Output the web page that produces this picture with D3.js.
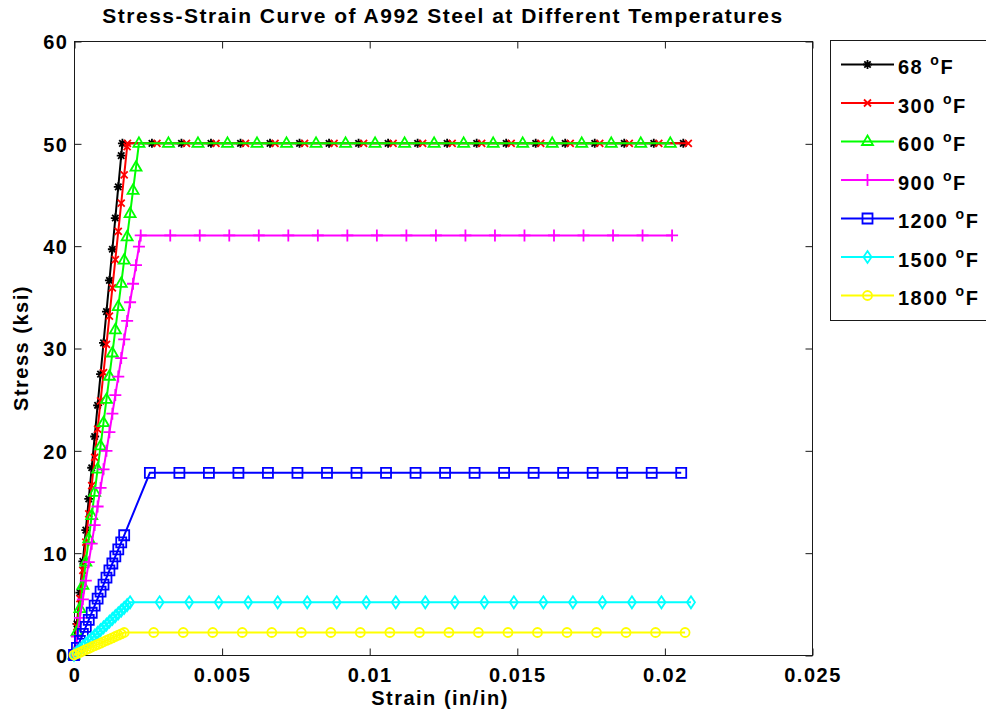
<!DOCTYPE html>
<html>
<head>
<meta charset="utf-8">
<script src="https://cdn.jsdelivr.net/npm/d3@7"></script>
<style>
  body { margin: 0; background: #ffffff; }
  svg text { font-family: "Liberation Sans", Arial, Helvetica, sans-serif; font-weight: bold; fill: #000; letter-spacing: 1.5px; }
</style>
</head>
<body>
<svg id="chart" width="986" height="717"></svg>
<script>
// ---- Data: strain (in/in) and stress (ksi) for each temperature ----
const tempLabels = ["68", "300", "600", "900", "1200", "1500", "1800"];

const strain68 = [0, 0.0001, 0.0002, 0.0003, 0.0004, 0.0005, 0.0006, 0.0007, 0.0008, 0.0009, 0.0010, 0.0011, 0.0012, 0.0013, 0.0014, 0.0015, 0.0016, 0.00164,
  0.00264, 0.00364, 0.00464, 0.00564, 0.00664, 0.00764, 0.00864, 0.00964, 0.01064, 0.01164, 0.01264, 0.01364, 0.01464, 0.01564, 0.01664, 0.01764, 0.01864, 0.01964, 0.02064];
const stress68 = [0, 3.05, 6.10, 9.15, 12.20, 15.25, 18.30, 21.35, 24.40, 27.45, 30.50, 33.55, 36.60, 39.65, 42.70, 45.75, 48.80, 50,
  50, 50, 50, 50, 50, 50, 50, 50, 50, 50, 50, 50, 50, 50, 50, 50, 50, 50, 50];

const strain300 = [0, 0.0001, 0.0002, 0.0003, 0.0004, 0.0005, 0.0006, 0.0007, 0.0008, 0.0009, 0.0010, 0.0011, 0.0012, 0.0013, 0.0014, 0.0015, 0.0016, 0.0017, 0.0018, 0.00181,
  0.00281, 0.00381, 0.00481, 0.00581, 0.00681, 0.00781, 0.00881, 0.00981, 0.01081, 0.01181, 0.01281, 0.01381, 0.01481, 0.01581, 0.01681, 0.01781, 0.01881, 0.01981, 0.02081];
const stress300 = [0, 2.76, 5.52, 8.28, 11.04, 13.80, 16.56, 19.32, 22.08, 24.84, 27.60, 30.36, 33.12, 35.88, 38.64, 41.40, 44.16, 46.92, 49.68, 50,
  50, 50, 50, 50, 50, 50, 50, 50, 50, 50, 50, 50, 50, 50, 50, 50, 50, 50, 50];

const strain600 = [0, 0.0001, 0.0002, 0.0003, 0.0004, 0.0005, 0.0006, 0.0007, 0.0008, 0.0009, 0.0010, 0.0011, 0.0012, 0.0013, 0.0014, 0.0015, 0.0016, 0.0017, 0.0018, 0.0019, 0.0020, 0.0021, 0.0022,
  0.0032, 0.0042, 0.0052, 0.0062, 0.0072, 0.0082, 0.0092, 0.0102, 0.0112, 0.0122, 0.0132, 0.0142, 0.0152, 0.0162, 0.0172, 0.0182, 0.0192, 0.0202];
const stress600 = [0, 2.27, 4.54, 6.81, 9.08, 11.35, 13.62, 15.89, 18.16, 20.43, 22.70, 24.97, 27.24, 29.51, 31.78, 34.05, 36.32, 38.59, 40.86, 43.13, 45.40, 47.67, 50,
  50, 50, 50, 50, 50, 50, 50, 50, 50, 50, 50, 50, 50, 50, 50, 50, 50, 50];

const strain900 = [0, 0.0001, 0.0002, 0.0003, 0.0004, 0.0005, 0.0006, 0.0007, 0.0008, 0.0009, 0.0010, 0.0011, 0.0012, 0.0013, 0.0014, 0.0015, 0.0016, 0.0017, 0.0018, 0.0019, 0.0020, 0.0021, 0.0022, 0.00226,
  0.00326, 0.00426, 0.00526, 0.00626, 0.00726, 0.00826, 0.00926, 0.01026, 0.01126, 0.01226, 0.01326, 0.01426, 0.01526, 0.01626, 0.01726, 0.01826, 0.01926, 0.02026];
const stress900 = [0, 1.81, 3.63, 5.44, 7.26, 9.07, 10.88, 12.70, 14.51, 16.33, 18.14, 19.95, 21.77, 23.58, 25.40, 27.21, 29.02, 30.84, 32.65, 34.47, 36.28, 38.09, 39.91, 41,
  41, 41, 41, 41, 41, 41, 41, 41, 41, 41, 41, 41, 41, 41, 41, 41, 41, 41];

const strain1200 = [0, 0.0001, 0.0002, 0.0003, 0.0004, 0.0005, 0.0006, 0.0007, 0.0008, 0.0009, 0.0010, 0.0011, 0.0012, 0.0013, 0.0014, 0.0015, 0.0016, 0.0017, 0.00257,
  0.00357, 0.00457, 0.00557, 0.00657, 0.00757, 0.00857, 0.00957, 0.01057, 0.01157, 0.01257, 0.01357, 0.01457, 0.01557, 0.01657, 0.01757, 0.01857, 0.01957, 0.02057];
const stress1200 = [0, 0.69, 1.38, 2.06, 2.75, 3.44, 4.13, 4.82, 5.50, 6.19, 6.88, 7.57, 8.26, 8.94, 9.63, 10.32, 11.01, 11.70, 17.8,
  17.8, 17.8, 17.8, 17.8, 17.8, 17.8, 17.8, 17.8, 17.8, 17.8, 17.8, 17.8, 17.8, 17.8, 17.8, 17.8, 17.8, 17.8];

const strain1500 = [0, 0.0001, 0.0002, 0.0003, 0.0004, 0.0005, 0.0006, 0.0007, 0.0008, 0.0009, 0.0010, 0.0011, 0.0012, 0.0013, 0.0014, 0.0015, 0.0016, 0.0017, 0.0018, 0.0019,
  0.0029, 0.0039, 0.0049, 0.0059, 0.0069, 0.0079, 0.0089, 0.0099, 0.0109, 0.0119, 0.0129, 0.0139, 0.0149, 0.0159, 0.0169, 0.0179, 0.0189, 0.0199, 0.0209];
const stress1500 = [0, 0.27, 0.54, 0.81, 1.08, 1.36, 1.63, 1.90, 2.17, 2.44, 2.71, 2.98, 3.25, 3.52, 3.79, 4.07, 4.34, 4.61, 4.88, 5.15,
  5.15, 5.15, 5.15, 5.15, 5.15, 5.15, 5.15, 5.15, 5.15, 5.15, 5.15, 5.15, 5.15, 5.15, 5.15, 5.15, 5.15, 5.15, 5.15];

const strain1800 = [0, 0.0001, 0.0002, 0.0003, 0.0004, 0.0005, 0.0006, 0.0007, 0.0008, 0.0009, 0.0010, 0.0011, 0.0012, 0.0013, 0.0014, 0.0015, 0.0016, 0.0017,
  0.0027, 0.0037, 0.0047, 0.0057, 0.0067, 0.0077, 0.0087, 0.0097, 0.0107, 0.0117, 0.0127, 0.0137, 0.0147, 0.0157, 0.0167, 0.0177, 0.0187, 0.0197, 0.0207];
const stress1800 = [0, 0.13, 0.26, 0.39, 0.52, 0.65, 0.78, 0.91, 1.04, 1.16, 1.29, 1.42, 1.55, 1.68, 1.81, 1.94, 2.07, 2.20,
  2.2, 2.2, 2.2, 2.2, 2.2, 2.2, 2.2, 2.2, 2.2, 2.2, 2.2, 2.2, 2.2, 2.2, 2.2, 2.2, 2.2, 2.2, 2.2];

const xTicks = [0, 0.005, 0.01, 0.015, 0.02, 0.025];
const xTickLabels = ["0", "0.005", "0.01", "0.015", "0.02", "0.025"];
const yTicks = [0, 10, 20, 30, 40, 50, 60];
const yTickLabels = ["0", "10", "20", "30", "40", "50", "60"];

// ---- Series styling ----
const series = [
  { label: tempLabels[0], strain: strain68,   stress: stress68,   color: "#000000", marker: "star" },
  { label: tempLabels[1], strain: strain300,  stress: stress300,  color: "#ff0000", marker: "x" },
  { label: tempLabels[2], strain: strain600,  stress: stress600,  color: "#00ff00", marker: "triangle" },
  { label: tempLabels[3], strain: strain900,  stress: stress900,  color: "#ff00ff", marker: "plus" },
  { label: tempLabels[4], strain: strain1200, stress: stress1200, color: "#0000ff", marker: "square" },
  { label: tempLabels[5], strain: strain1500, stress: stress1500, color: "#00ffff", marker: "diamond" },
  { label: tempLabels[6], strain: strain1800, stress: stress1800, color: "#ffff00", marker: "circle" }
];

const markerPaths = {
  star: "M-4.5,0H4.5M0,-4.5V4.5M-3.2,-3.2L3.2,3.2M-3.2,3.2L3.2,-3.2",
  x: "M-3.5,-3.5L3.5,3.5M-3.5,3.5L3.5,-3.5",
  triangle: "M0,-6L5.5,3.5L-5.5,3.5Z",
  plus: "M-6,0H6M0,-6V6",
  square: "M-5,-5H5V5H-5Z",
  diamond: "M0,-6L4,0L0,6L-4,0Z",
  circle: "M4.5,0A4.5,4.5 0 1,1 -4.5,0A4.5,4.5 0 1,1 4.5,0Z"
};

// ---- Layout ----
const svg = d3.select("#chart");
const plotLeft = 74, plotRight = 812, plotTop = 41, plotBottom = 655;

const x = d3.scaleLinear().domain([0, 0.025]).range([plotLeft, plotRight]);
const y = d3.scaleLinear().domain([0, 60]).range([plotBottom, plotTop]);

svg.append("rect").attr("width", 986).attr("height", 717).attr("fill", "#ffffff");

// Plot box
svg.append("rect")
  .attr("x", plotLeft + 0.5).attr("y", plotTop + 0.5)
  .attr("width", plotRight - plotLeft).attr("height", plotBottom - plotTop)
  .attr("fill", "none").attr("stroke", "#1a1a1a").attr("stroke-width", 1);

// Axes with inward ticks on all four sides
function styleAxis(g) {
  g.select(".domain").remove();
  g.selectAll(".tick line").attr("stroke", "#1a1a1a").attr("stroke-width", 1);
}

const xBottom = svg.append("g")
  .attr("transform", `translate(0.5,${plotBottom + 0.5})`)
  .call(d3.axisBottom(x).tickValues(xTicks).tickFormat((d, i) => xTickLabels[i]).tickSizeInner(-7).tickSizeOuter(0))
  .call(styleAxis);
xBottom.selectAll(".tick text")
  .attr("y", 26).attr("dy", null)
  .attr("font-size", 20).attr("fill", "#000");

svg.append("g")
  .attr("transform", `translate(0.5,${plotTop + 0.5})`)
  .call(d3.axisTop(x).tickValues(xTicks).tickFormat("").tickSizeInner(-7).tickSizeOuter(0))
  .call(styleAxis);

const yLeft = svg.append("g")
  .attr("transform", `translate(${plotLeft + 0.5},0.5)`)
  .call(d3.axisLeft(y).tickValues(yTicks).tickFormat((d, i) => yTickLabels[i]).tickSizeInner(-7).tickSizeOuter(0))
  .call(styleAxis);
yLeft.selectAll(".tick text")
  .attr("x", -6).attr("dy", "0.36em")
  .attr("font-size", 20).attr("fill", "#000");

svg.append("g")
  .attr("transform", `translate(${plotRight + 0.5},0.5)`)
  .call(d3.axisRight(y).tickValues(yTicks).tickFormat("").tickSizeInner(-7).tickSizeOuter(0))
  .call(styleAxis);

svg.selectAll(".tick text").style("font-family", "'Liberation Sans', Arial, sans-serif").style("font-weight", "bold");

// Title and axis labels
svg.append("text")
  .attr("x", (plotLeft + plotRight) / 2).attr("y", 23)
  .attr("text-anchor", "middle").attr("font-size", 21)
  .text("Stress-Strain Curve of A992 Steel at Different Temperatures");

svg.append("text")
  .attr("x", (plotLeft + plotRight) / 2 - 3).attr("y", 705)
  .attr("text-anchor", "middle").attr("font-size", 20)
  .text("Strain (in/in)");

svg.append("text")
  .attr("transform", `translate(28,${(plotTop + plotBottom) / 2}) rotate(-90)`)
  .attr("text-anchor", "middle").attr("font-size", 20)
  .text("Stress (ksi)");

// Curves
const line = d3.line().x(d => x(d[0])).y(d => y(d[1]));

series.forEach(s => {
  const pts = s.strain.map((e, i) => [e, s.stress[i]]);
  const g = svg.append("g");
  g.append("path")
    .datum(pts)
    .attr("d", line)
    .attr("fill", "none")
    .attr("stroke", s.color)
    .attr("stroke-width", 2);
  g.selectAll("path.mk")
    .data(pts)
    .join("path")
    .attr("class", "mk")
    .attr("transform", d => `translate(${x(d[0])},${y(d[1])})`)
    .attr("d", markerPaths[s.marker])
    .attr("fill", "none")
    .attr("stroke", s.color)
    .attr("stroke-width", 1.8);
});

// Legend
const legend = svg.append("g");
legend.append("rect")
  .attr("x", 830.5).attr("y", 40.5)
  .attr("width", 170).attr("height", 280)
  .attr("fill", "#ffffff").attr("stroke", "#1a1a1a").attr("stroke-width", 1);

series.forEach((s, i) => {
  const ly = 64.5 + i * 38.5;
  const row = legend.append("g");
  row.append("line")
    .attr("x1", 841).attr("x2", 894).attr("y1", ly).attr("y2", ly)
    .attr("stroke", s.color).attr("stroke-width", 2);
  row.append("path")
    .attr("transform", `translate(867.5,${ly})`)
    .attr("d", markerPaths[s.marker])
    .attr("fill", "none").attr("stroke", s.color).attr("stroke-width", 1.8);
  const t = row.append("text")
    .attr("x", 898).attr("y", ly + 9.5)
    .attr("font-size", 20);
  t.append("tspan").text(s.label + " ");
  t.append("tspan").attr("font-size", 14).attr("dy", -9).text("o");
  t.append("tspan").attr("dy", 9).text("F");
});
</script>
</body>
</html>
